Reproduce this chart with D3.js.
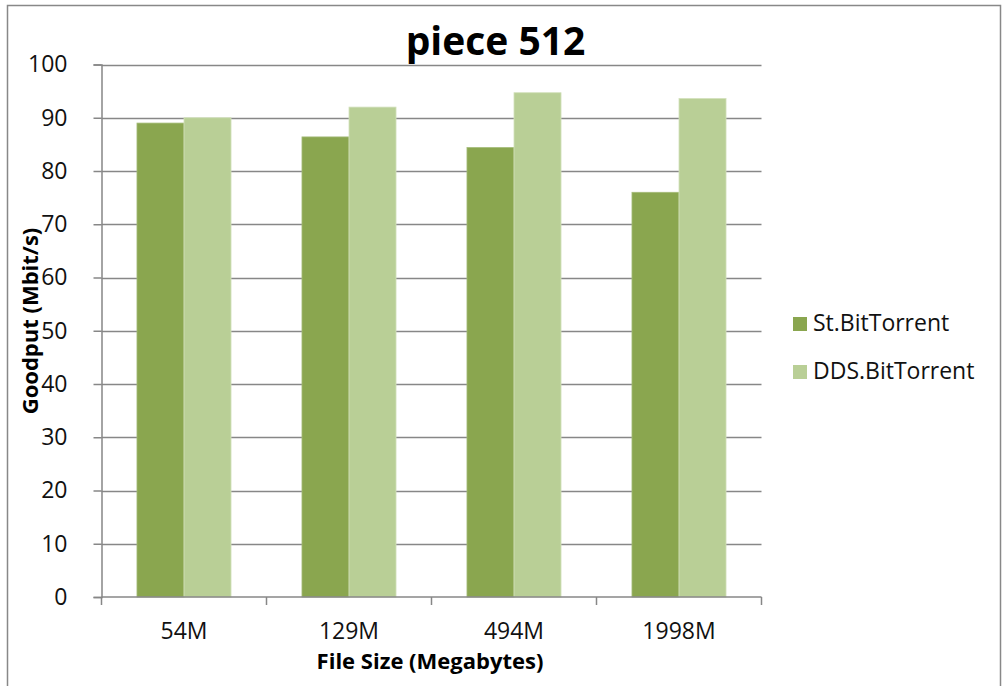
<!DOCTYPE html>
<html>
<head>
<meta charset="utf-8">
<script src="https://cdn.jsdelivr.net/npm/d3@7"></script>
<style>
  html, body { margin: 0; padding: 0; background: #fff; }
  svg { display: block; font-family: "Open Sans", Lato, sans-serif; }
</style>
</head>
<body>
<svg id="chart" width="1007" height="686"></svg>
<script>
// Goodput per file size, piece size 512
const categories = ["54M", "129M", "494M", "1998M"];
const seriesNames = ["St.BitTorrent", "DDS.BitTorrent"];
const stValues = [89.0, 86.4, 84.4, 76.0];
const ddsValues = [90.0, 92.0, 94.7, 93.6];
const yTicks = [0, 10, 20, 30, 40, 50, 60, 70, 80, 90, 100];
const colors = ["#8aa64f", "#b9cf96"];

const FONT = "'Open Sans', Lato, sans-serif";
const svg = d3.select("#chart");
const plot = { left: 101.5, right: 761.5, top: 64.5, bottom: 597 };

// outer frame
svg.append("rect")
  .attr("x", 7.5).attr("y", 5.5)
  .attr("width", 993).attr("height", 700)
  .attr("fill", "#fff").attr("stroke", "#888").attr("stroke-width", 1.5);

const x = d3.scaleBand().domain(categories)
  .range([plot.left, plot.right]).paddingInner(0.43).paddingOuter(0.215);
const xs = d3.scaleBand().domain(seriesNames).range([0, x.bandwidth()]);
const y = d3.scaleLinear().domain([0, 100]).range([plot.bottom, plot.top]);

// horizontal gridlines
svg.append("g").selectAll("line").data(yTicks.filter(d => d > 0)).join("line")
  .attr("x1", plot.left).attr("x2", plot.right)
  .attr("y1", d => Math.round(y(d)) + 0.5).attr("y2", d => Math.round(y(d)) + 0.5)
  .attr("stroke", "#878787").attr("stroke-width", 1.5);

// bars
const rows = categories.map((c, i) => ({ c, vals: [stValues[i], ddsValues[i]] }));
const groups = svg.append("g").selectAll("g").data(rows).join("g")
  .attr("transform", d => `translate(${x(d.c)},0)`);
groups.selectAll("rect").data(d => d.vals.map((v, j) => ({ v, j }))).join("rect")
  .attr("x", d => xs(seriesNames[d.j]))
  .attr("width", xs.bandwidth())
  .attr("y", d => y(d.v))
  .attr("height", d => y(0) - y(d.v))
  .attr("fill", d => colors[d.j])
  .attr("stroke", d => d.j === 0 ? "#a4bb78" : "#d2e0bb")
  .attr("stroke-width", 0.8);

// y axis
const yAxis = d3.axisLeft(y).tickValues(yTicks).tickSize(8).tickPadding(26);
const gy = svg.append("g").attr("transform", `translate(${plot.left},0)`).call(yAxis);
gy.select(".domain").attr("stroke", "#878787").attr("stroke-width", 1.5);
gy.selectAll(".tick line").attr("stroke", "#878787").attr("stroke-width", 1.5);
gy.selectAll(".tick text").attr("font-size", 23).attr("fill", "#111")
  .attr("font-family", FONT);

// x axis with ticks on category boundaries
const gx = svg.append("g").attr("transform", `translate(0,${plot.bottom})`);
gx.append("line").attr("x1", plot.left).attr("x2", plot.right)
  .attr("stroke", "#878787").attr("stroke-width", 1.5);
const bounds = categories.map(c => x(c) - x.step() * x.paddingInner() / 2)
  .concat([plot.right]);
gx.selectAll(".bt").data(bounds).join("line").attr("class", "bt")
  .attr("x1", d => d).attr("x2", d => d).attr("y1", 0).attr("y2", 8)
  .attr("stroke", "#878787").attr("stroke-width", 1.5);
gx.selectAll(".lab").data(categories).join("text").attr("class", "lab")
  .attr("x", d => x(d) + x.bandwidth() / 2).attr("y", 41.5)
  .attr("text-anchor", "middle").attr("font-size", 23).attr("fill", "#111")
  .text(d => d);

// titles
svg.append("text").attr("x", 495.5).attr("y", 55).attr("text-anchor", "middle")
  .attr("font-size", 39).attr("font-weight", "bold").attr("fill", "#000")
  .text("piece 512");
svg.append("text").attr("x", 430).attr("y", 669)
  .attr("text-anchor", "middle").attr("font-size", 22).attr("font-weight", "bold")
  .attr("fill", "#000").text("File Size (Megabytes)");
svg.append("text")
  .attr("transform", "translate(38,321) rotate(-90)")
  .attr("text-anchor", "middle").attr("font-size", 22).attr("font-weight", "bold")
  .attr("fill", "#000").text("Goodput (Mbit/s)");

// legend
const legend = svg.append("g").selectAll("g").data(seriesNames).join("g")
  .attr("transform", (d, i) => `translate(793,${317 + i * 48})`);
legend.append("rect").attr("width", 14).attr("height", 14)
  .attr("fill", (d, i) => colors[i]);
legend.append("text").attr("x", 20).attr("y", 14).attr("font-size", 23)
  .attr("fill", "#111").text(d => d);
</script>
</body>
</html>
